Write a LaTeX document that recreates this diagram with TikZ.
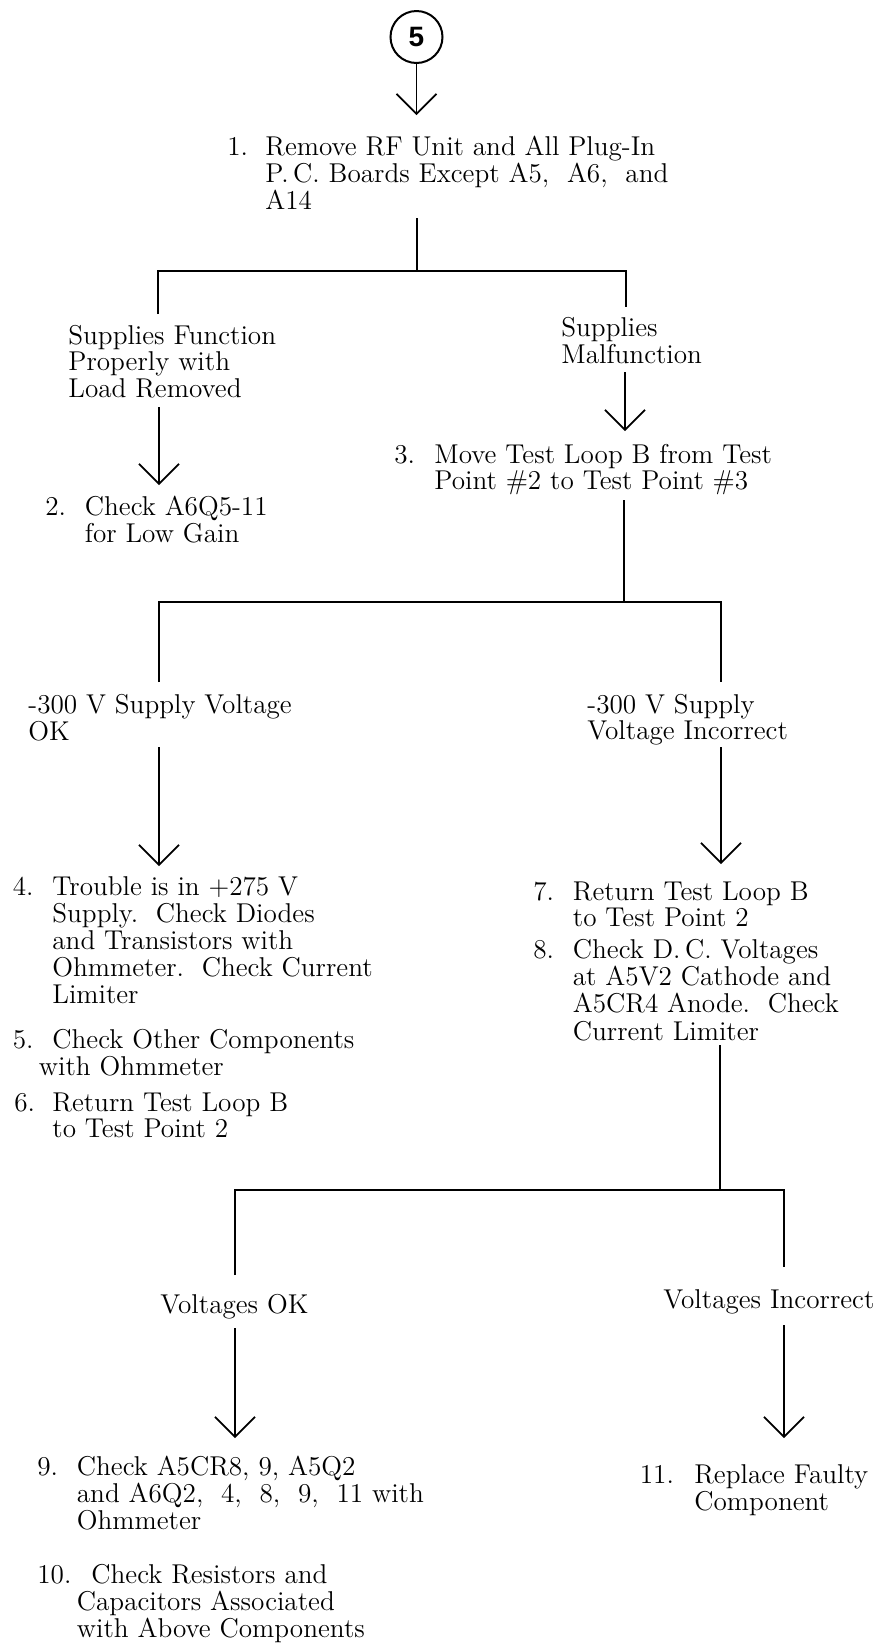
\documentclass[tikz,border=0pt]{standalone}
\usepackage{fontspec}
\newfontfamily\circfont{Liberation Sans}
\usetikzlibrary{arrows.meta}
\newcommand{\itemnum}[2][19.75pt]{\makebox[#1][l]{#2}}
\newcommand{\ind}[1][19.75pt]{\hspace*{#1}}
\begin{document}
\begin{tikzpicture}[x=0.5pt,y=-0.5pt,
  txt/.style={anchor=base west, inner sep=0pt, font=\fontsize{13.6}{13.4}\selectfont},
  bar/.style={line width=1pt},
  arr/.style={line width=0.85pt, -{Straight Barb[length=10pt,width=20pt,line width=0.85pt]}},
  conn/.style={circle, draw, line width=1pt, minimum size=26pt, inner sep=0pt, font=\circfont\bfseries\fontsize{14}{14}\selectfont}]
\useasboundingbox[fill=white] (0,0) rectangle (889,1645);

% entry connector
\node[conn] (c5) at (416.5,37) {5};

% text nodes
\node[txt] (i1) at (227,155) {\begin{tabular}[t]{@{}l@{}}
\itemnum[19pt]{1.}Remove RF Unit and All Plug-In\\
\ind[19pt]P.\,C. Boards Except A5,\ \ A6,\ \ and\\
\ind[19pt]A14\end{tabular}};

\node[txt] (l1) at (68,344) {\begin{tabular}[t]{@{}l@{}}
Supplies Function\\ Properly with\\ Load Removed\end{tabular}};
\node[txt] (r1) at (561,336) {\begin{tabular}[t]{@{}l@{}}
Supplies\\ Malfunction\end{tabular}};

\node[txt] (i2) at (45,515) {\begin{tabular}[t]{@{}l@{}}
\itemnum{2.}Check A6Q5-11\\ \ind for Low Gain\end{tabular}};
\node[txt] (i3) at (394,463) {\begin{tabular}[t]{@{}l@{}}
\itemnum[20pt]{3.}Move Test Loop B from Test\\ \ind[20pt]Point \#2 to Test Point \#3\end{tabular}};

\node[txt] (l2) at (28,713) {\begin{tabular}[t]{@{}l@{}}
-300 V Supply Voltage\\ OK\end{tabular}};
\node[txt] (r2) at (587,713) {\begin{tabular}[t]{@{}l@{}}
-300 V Supply\\ Voltage Incorrect\end{tabular}};

\node[txt] (i4) at (12.5,895) {\begin{tabular}[t]{@{}l@{}}
\itemnum{4.}Trouble is in +275 V\\
\ind Supply.\ \ Check Diodes\\
\ind and Transistors with\\
\ind Ohmmeter.\ \ Check Current\\
\ind Limiter\end{tabular}};
\node[txt] (i5) at (12.5,1048) {\begin{tabular}[t]{@{}l@{}}
\itemnum{5.}Check Other Components\\ \ind[13pt]with Ohmmeter\end{tabular}};
\node[txt] (i6) at (14,1111) {\begin{tabular}[t]{@{}l@{}}
\itemnum[19pt]{6.}Return Test Loop B\\ \ind[19pt]to Test Point 2\end{tabular}};

\node[txt] (i7) at (533,900) {\begin{tabular}[t]{@{}l@{}}
\itemnum{7.}Return Test Loop B\\ \ind to Test Point 2\end{tabular}};
\node[txt] (i8) at (533,958) {\begin{tabular}[t]{@{}l@{}}
\itemnum{8.}Check D.\,C. Voltages\\
\ind at A5V2 Cathode and\\
\ind A5CR4 Anode.\ \ Check\\
\ind Current Limiter\end{tabular}};

\node[txt] (l3) at (160,1313) {Voltages OK};
\node[txt] (r3) at (663,1308) {Voltages Incorrect};

\node[txt] (i9) at (37,1475) {\begin{tabular}[t]{@{}l@{}}
\itemnum{9.}Check A5CR8, 9, A5Q2\\
\ind and A6Q2,\ \ 4,\ \ 8,\ \ 9,\ \ 11 with\\
\ind Ohmmeter\end{tabular}};
\node[txt] (i10) at (37,1583) {\begin{tabular}[t]{@{}l@{}}
\itemnum[27pt]{10.}Check Resistors and\\
\ind Capacitors Associated\\
\ind with Above Components\end{tabular}};
\node[txt] (i11) at (639.5,1483) {\begin{tabular}[t]{@{}l@{}}
\itemnum[27.25pt]{11.}Replace Faulty\\ \ind[27.25pt]Component\end{tabular}};

% connector coordinates
\coordinate (a0e) at (416.5,115);
\coordinate (t1s) at (416.5,218);
\coordinate (t1e) at (416.5,271);
\coordinate (b1l) at (158,271);
\coordinate (b1r) at (626,271);
\coordinate (d1l) at (158,314);
\coordinate (d1r) at (626,307);
\coordinate (a1ls) at (159,407);
\coordinate (a1le) at (159,485);
\coordinate (a1rs) at (625,372);
\coordinate (a1re) at (625,431);
\coordinate (t2s) at (624,500);
\coordinate (t2e) at (624,602);
\coordinate (b2l) at (159,602);
\coordinate (b2r) at (721,602);
\coordinate (d2l) at (159,682);
\coordinate (d2r) at (721,682);
\coordinate (a2ls) at (159,747);
\coordinate (a2le) at (159,866);
\coordinate (a2rs) at (721,747);
\coordinate (a2re) at (721,864);
\coordinate (t3s) at (720,1045);
\coordinate (t3e) at (720,1190);
\coordinate (b3l) at (235,1190);
\coordinate (b3r) at (784,1190);
\coordinate (d3l) at (235,1275);
\coordinate (d3r) at (784,1267);
\coordinate (a3ls) at (235,1328);
\coordinate (a3le) at (235,1438);
\coordinate (a3rs) at (784,1325);
\coordinate (a3re) at (784,1438);

% connectors
\draw[arr] (c5.south) -- (a0e);
\draw[bar] (t1s) -- (t1e);
\draw[bar] (d1l) -- (b1l) -- (b1r) -- (d1r);
\draw[arr] (a1ls) -- (a1le);
\draw[arr] (a1rs) -- (a1re);
\draw[bar] (t2s) -- (t2e);
\draw[bar] (d2l) -- (b2l) -- (b2r) -- (d2r);
\draw[arr] (a2ls) -- (a2le);
\draw[arr] (a2rs) -- (a2re);
\draw[bar] (t3s) -- (t3e);
\draw[bar] (d3l) -- (b3l) -- (b3r) -- (d3r);
\draw[arr] (a3ls) -- (a3le);
\draw[arr] (a3rs) -- (a3re);
\end{tikzpicture}
\end{document}
